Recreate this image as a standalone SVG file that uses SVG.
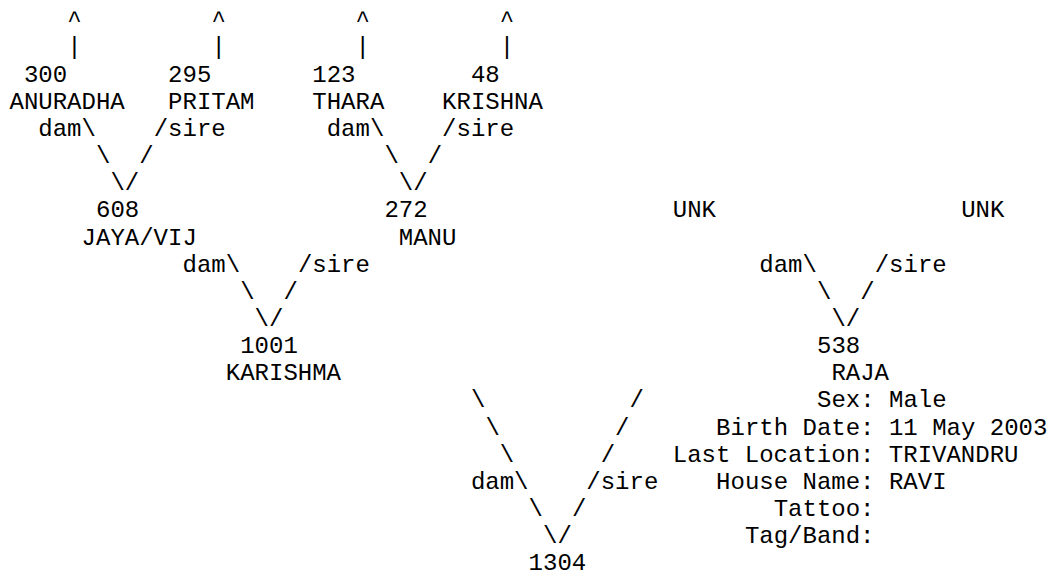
<svg xmlns="http://www.w3.org/2000/svg" width="1051" height="577" viewBox="0 0 1051 577">
<style>
text { font-family: "Liberation Mono", "Courier New", monospace; font-size: 24px; fill: #000; white-space: pre; }
</style>
<rect width="1051" height="577" fill="#fff"/>
<g id="connectors">
  <text x="67.2" y="27.3">^</text><text x="211.4" y="27.3">^</text><text x="355.6" y="27.3">^</text><text x="499.8" y="27.3">^</text>
  <text x="67.2" y="54.45">|</text><text x="211.4" y="54.45">|</text><text x="355.6" y="54.45">|</text><text x="499.8" y="54.45">|</text>
  <text x="38.3" y="135.9">dam\</text><text x="153.7" y="135.9">/sire</text>
  <text x="326.7" y="135.9">dam\</text><text x="442.1" y="135.9">/sire</text>
  <text x="96" y="163.05">\</text><text x="139.3" y="163.05">/</text>
  <text x="384.4" y="163.05">\</text><text x="427.7" y="163.05">/</text>
  <text x="110.4" y="190.2">\/</text><text x="398.8" y="190.2">\/</text>
  <text x="182.5" y="271.65">dam\</text><text x="297.9" y="271.65">/sire</text>
  <text x="759.3" y="271.65">dam\</text><text x="874.7" y="271.65">/sire</text>
  <text x="240.2" y="298.8">\</text><text x="283.5" y="298.8">/</text>
  <text x="817" y="298.8">\</text><text x="860.3" y="298.8">/</text>
  <text x="254.6" y="325.95">\/</text><text x="831.4" y="325.95">\/</text>
  <text x="470.9" y="407.4">\</text><text x="629.6" y="407.4">/</text>
  <text x="485.4" y="434.55">\</text><text x="615.1" y="434.55">/</text>
  <text x="499.8" y="461.7">\</text><text x="600.7" y="461.7">/</text>
  <text x="470.9" y="488.85">dam\</text><text x="586.3" y="488.85">/sire</text>
  <text x="528.6" y="516">\</text><text x="571.9" y="516">/</text>
  <text x="543" y="543.15">\/</text>
</g>
<g id="node-300"><text x="23.9" y="81.6">300</text><text x="9.5" y="108.75">ANURADHA</text></g>
<g id="node-295"><text x="168.1" y="81.6">295</text><text x="168.1" y="108.75">PRITAM</text></g>
<g id="node-123"><text x="312.3" y="81.6">123</text><text x="312.3" y="108.75">THARA</text></g>
<g id="node-48"><text x="470.9" y="81.6">48</text><text x="442.1" y="108.75">KRISHNA</text></g>
<g id="node-608"><text x="96" y="217.35">608</text><text x="81.6" y="244.5">JAYA/VIJ</text></g>
<g id="node-272"><text x="384.4" y="217.35">272</text><text x="398.8" y="244.5">MANU</text></g>
<g id="node-unk-dam"><text x="672.8" y="217.35">UNK</text></g>
<g id="node-unk-sire"><text x="961.2" y="217.35">UNK</text></g>
<g id="node-1001"><text x="240.2" y="353.1">1001</text><text x="225.8" y="380.25">KARISHMA</text></g>
<g id="node-538">
  <text x="817" y="353.1">538</text>
  <text x="831.4" y="380.25">RAJA</text>
  <text x="817" y="407.4">Sex: Male</text>
  <text x="716.1" y="434.55">Birth Date: 11 May 2003</text>
  <text x="672.8" y="461.7">Last Location: TRIVANDRU</text>
  <text x="716.1" y="488.85">House Name: RAVI</text>
  <text x="773.7" y="516">Tattoo:</text>
  <text x="744.9" y="543.15">Tag/Band:</text>
</g>
<g id="node-1304"><text x="528.6" y="570.3">1304</text></g>
</svg>
